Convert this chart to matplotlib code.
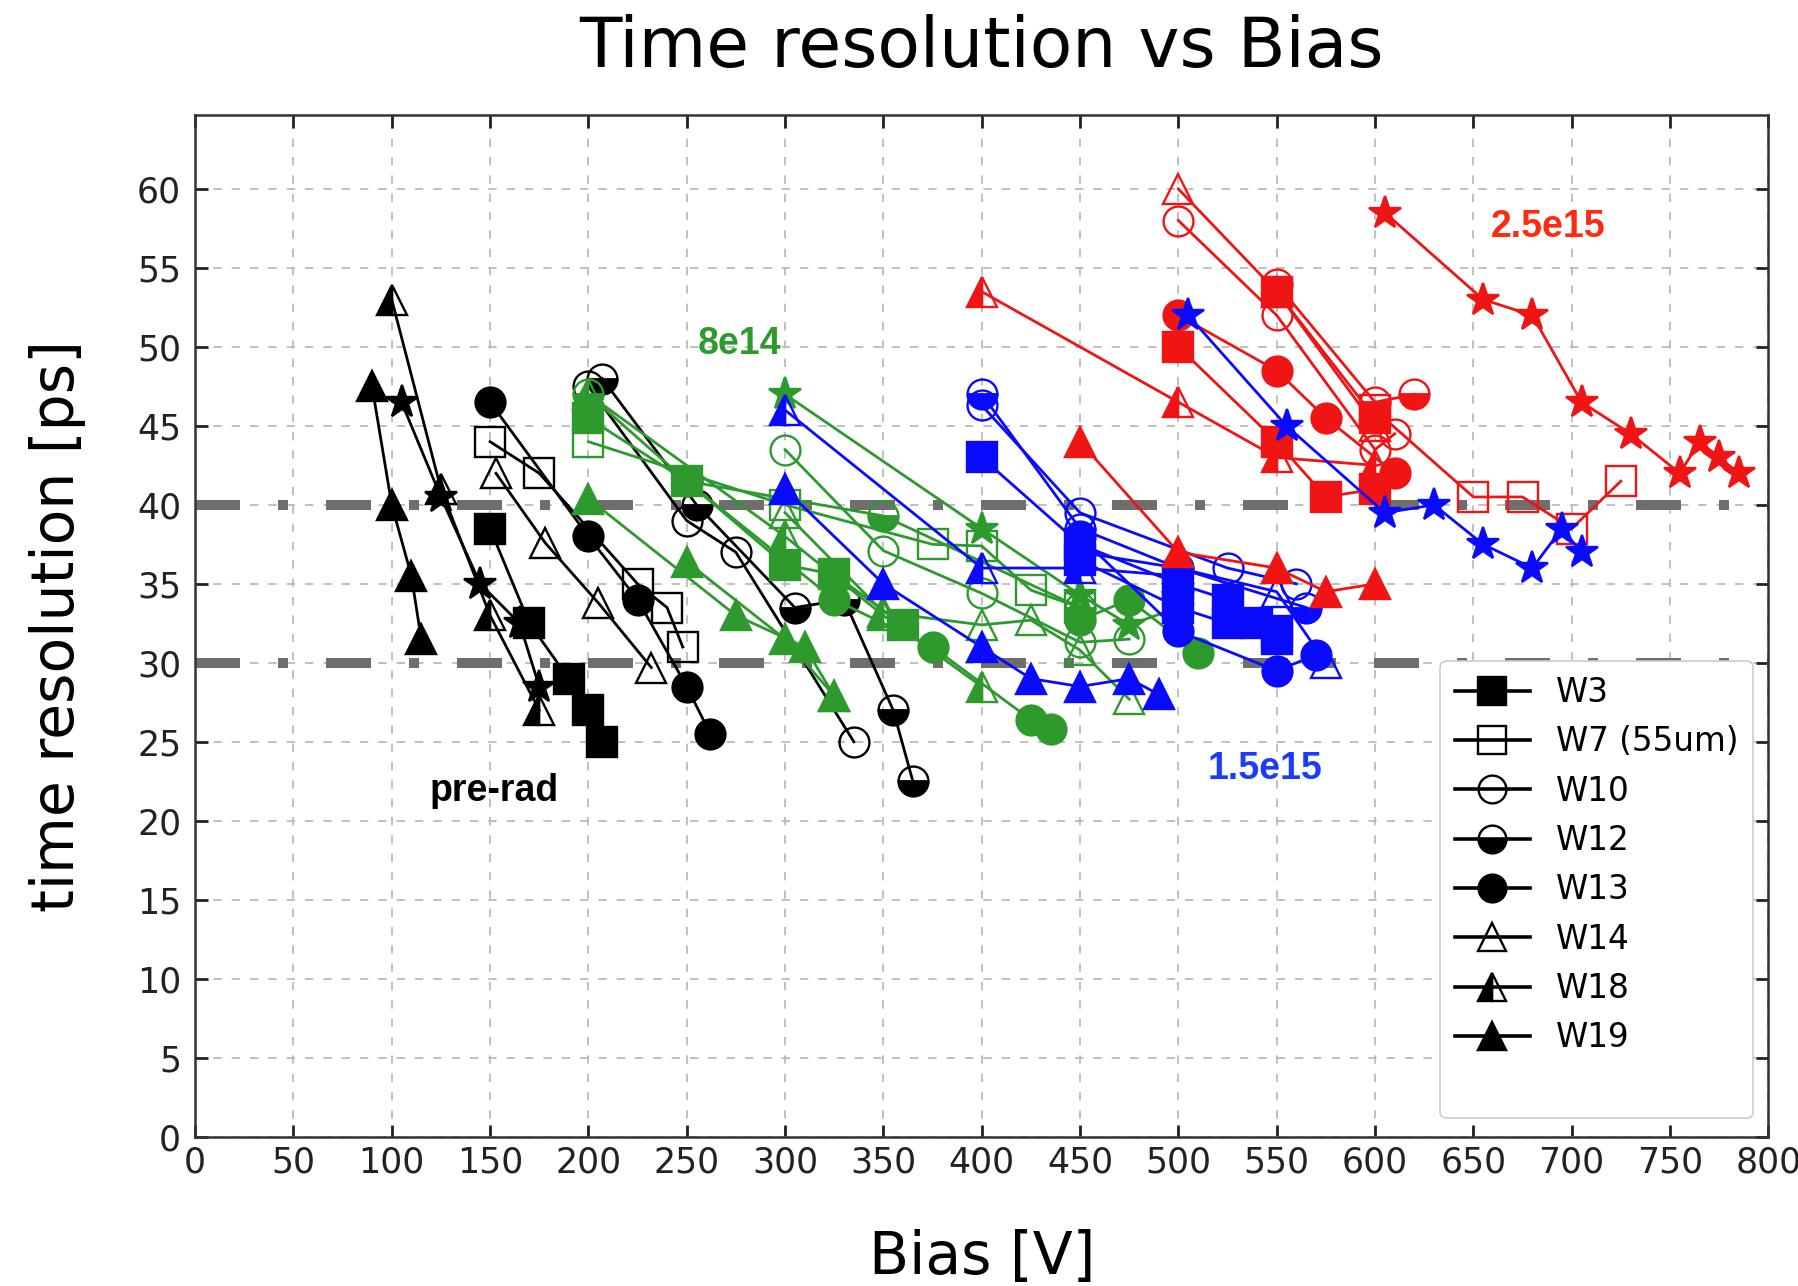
import matplotlib
matplotlib.use("Agg")
import matplotlib.pyplot as plt
from matplotlib.lines import Line2D

# ---------------- data: bias [V] vs time resolution [ps] ----------------
# pre-rad (black)
pre_w3_v, pre_w3_t = [150, 170, 190, 200, 207], [38.5, 32.5, 29, 27, 25]
pre_w7_v, pre_w7_t = [150, 175, 225, 240, 248], [44, 42, 35, 33.5, 31]
pre_w10_v, pre_w10_t = [200, 250, 275, 335], [47.5, 39, 37, 25]
pre_w12_v, pre_w12_t = [207, 255, 305, 330, 355, 365], [48, 40, 33.5, 34, 27, 22.5]
pre_w13_v, pre_w13_t = [150, 200, 225, 250, 262], [46.5, 38, 34, 28.5, 25.5]
pre_w14_v, pre_w14_t = [153, 178, 205, 232], [42, 37.6, 33.8, 29.7]
pre_w18_v, pre_w18_t = [100, 125, 150, 175], [53, 41, 33, 27]
pre_w19_v, pre_w19_t = [90, 100, 110, 115], [47.5, 40, 35.5, 31.5]
pre_star_v, pre_star_t = [105, 125, 145, 165, 175], [46.5, 40.5, 35, 32.5, 28.5]

# 8e14 (green)
f8_w3_v, f8_w3_t = [200, 250, 300, 325, 360], [45.5, 41.5, 36.2, 35.6, 32.4]
f8_w7_v, f8_w7_t = [200, 300, 375, 400, 425, 450], [44, 40, 37.5, 37.4, 34.6, 33.5]
f8_w10_v, f8_w10_t = [300, 350, 400, 450, 475], [43.5, 37.1, 34.4, 31.3, 31.5]
f8_w12_v, f8_w12_t = [200, 250, 350, 450], [47, 41.5, 39.3, 33.5]
f8_w13_v, f8_w13_t = [250, 325, 375, 425, 435], [41.5, 34, 31, 26.4, 25.8]
f8_w13b_v, f8_w13b_t = [450, 475, 510], [32.7, 34, 30.6]
f8_w14_v, f8_w14_t = [300, 350, 400, 425, 450, 475], [39.5, 33.2, 32.4, 32.7, 30.8, 27.7]
f8_w18_v, f8_w18_t = [200, 300, 350, 400], [47, 38, 33, 28.5]
f8_w19_v, f8_w19_t = [200, 275, 310, 325], [40.4, 33, 31, 27.9]
f8_w19b_v, f8_w19b_t = [250, 300, 325], [36.4, 31.5, 27.9]
f8_star_v, f8_star_t = [300, 400, 450, 475, 500], [47, 38.5, 34.3, 32.4, 33.5]

# 1.5e15 (blue)
f15_w3_v, f15_w3_t = [400, 450, 500, 525, 550], [43, 37.5, 35, 34, 32]
f15_w3b_v, f15_w3b_t = [450, 500, 525, 540, 550], [36.5, 33.5, 32.5, 32.5, 31.5]
f15_w10_v, f15_w10_t = [400, 450, 525, 560], [46.3, 39.5, 36, 35]
f15_w12_v, f15_w12_t = [400, 450, 500, 565], [47, 38.5, 36, 33.5]
f15_w13_v, f15_w13_t = [450, 500, 550, 570], [38, 32, 29.5, 30.5]
f15_w14_v, f15_w14_t = [450, 500, 550, 575], [37, 36, 34.5, 30]
f15_w18_v, f15_w18_t = [300, 400, 450, 500], [46, 36, 36, 35.5]
f15_w19_v, f15_w19_t = [300, 350, 400, 425, 450, 475, 490], [41, 35, 31, 29, 28.5, 29, 28]
f15_star_v = [505, 555, 605, 630, 655, 680, 695, 705]
f15_star_t = [52, 45, 39.5, 40, 37.5, 36, 38.5, 37]

# 2.5e15 (red)
f25_w3_v, f25_w3_t = [500, 550, 575, 600], [50, 44, 40.5, 41]
f25_w3b_v, f25_w3b_t = [550, 600], [53.5, 45.5]
f25_w7_v, f25_w7_t = [600, 650, 675, 700, 725], [46, 40.5, 40.5, 38.5, 41.5]
f25_w10_v, f25_w10_t = [500, 550, 600, 610], [58, 52, 43.5, 44.5]
f25_w12_v, f25_w12_t = [550, 600, 620], [54, 46.5, 47]
f25_w13_v, f25_w13_t = [500, 550, 575, 610], [52, 48.5, 45.5, 42]
f25_w14_v, f25_w14_t = [500, 550, 600], [60, 53.5, 45]
f25_w18_v, f25_w18_t = [400, 500, 550, 600], [53.5, 46.5, 43, 42.5]
f25_w19_v, f25_w19_t = [450, 500, 550, 575, 600], [44, 37, 36, 34.5, 35]
f25_star_v = [605, 655, 680, 705, 730, 755, 765, 775, 785]
f25_star_t = [58.5, 53, 52, 46.5, 44.5, 42, 44, 43, 42]

targets = [30, 40]
legend_wafers = ["W3", "W7", "W10", "W12", "W13", "W14", "W18", "W19"]
legend_names = ["W3", "W7 (55um)", "W10", "W12", "W13", "W14", "W18", "W19"]

BLACK, GREEN, BLUE, RED = "#000000", "#2e9a2e", "#0a0aff", "#f01414"

# marker look per wafer: (marker, fillstyle, filled)
STYLE = {
    "W3": ("s", "full", True),
    "W7": ("s", "full", False),
    "W10": ("o", "full", False),
    "W12": ("o", "bottom", True),
    "W13": ("o", "full", True),
    "W14": ("^", "full", False),
    "W18": ("^", "left", True),
    "W19": ("^", "full", True),
    "star": ("*", "full", True),
}

series = [
    (BLACK, "W3", pre_w3_v, pre_w3_t), (BLACK, "W7", pre_w7_v, pre_w7_t),
    (BLACK, "W10", pre_w10_v, pre_w10_t), (BLACK, "W12", pre_w12_v, pre_w12_t),
    (BLACK, "W13", pre_w13_v, pre_w13_t), (BLACK, "W14", pre_w14_v, pre_w14_t),
    (BLACK, "W18", pre_w18_v, pre_w18_t), (BLACK, "W19", pre_w19_v, pre_w19_t),
    (BLACK, "star", pre_star_v, pre_star_t),
    (GREEN, "W3", f8_w3_v, f8_w3_t), (GREEN, "W7", f8_w7_v, f8_w7_t),
    (GREEN, "W10", f8_w10_v, f8_w10_t), (GREEN, "W12", f8_w12_v, f8_w12_t),
    (GREEN, "W13", f8_w13_v, f8_w13_t), (GREEN, "W13", f8_w13b_v, f8_w13b_t),
    (GREEN, "W14", f8_w14_v, f8_w14_t), (GREEN, "W18", f8_w18_v, f8_w18_t),
    (GREEN, "W19", f8_w19_v, f8_w19_t), (GREEN, "W19", f8_w19b_v, f8_w19b_t),
    (GREEN, "star", f8_star_v, f8_star_t),
    (BLUE, "W3", f15_w3_v, f15_w3_t), (BLUE, "W3", f15_w3b_v, f15_w3b_t),
    (BLUE, "W10", f15_w10_v, f15_w10_t), (BLUE, "W12", f15_w12_v, f15_w12_t),
    (BLUE, "W13", f15_w13_v, f15_w13_t), (BLUE, "W14", f15_w14_v, f15_w14_t),
    (BLUE, "W18", f15_w18_v, f15_w18_t), (BLUE, "W19", f15_w19_v, f15_w19_t),
    (RED, "W3", f25_w3_v, f25_w3_t), (RED, "W3", f25_w3b_v, f25_w3b_t),
    (RED, "W7", f25_w7_v, f25_w7_t), (RED, "W10", f25_w10_v, f25_w10_t),
    (RED, "W12", f25_w12_v, f25_w12_t), (RED, "W13", f25_w13_v, f25_w13_t),
    (RED, "W14", f25_w14_v, f25_w14_t), (RED, "W18", f25_w18_v, f25_w18_t),
    (RED, "W19", f25_w19_v, f25_w19_t), (RED, "star", f25_star_v, f25_star_t),
    (BLUE, "star", f15_star_v, f15_star_t),
]


def marker_kw(color, wafer, ms=21.5):
    m, fs, filled = STYLE[wafer]
    if wafer == "star":
        ms = ms * 1.15
    return dict(marker=m, fillstyle=fs, markersize=ms, markeredgewidth=1.7,
                markeredgecolor=color,
                markerfacecolor=color if filled else "none",
                markerfacecoloralt="none")


fig = plt.figure(figsize=(17.98, 12.86), dpi=100)
ax = fig.add_axes([0.1085, 0.1161, 0.875, 0.7947])

for ypos in targets:
    ax.axhline(ypos, color="#6e6e6e", lw=7.2, dashes=(4.5, 3.8, 1.0, 3.8), zorder=1)

for color, wafer, v, t in series:
    ax.plot(v, t, color=color, lw=2.0, zorder=3, **marker_kw(color, wafer))

handles = [Line2D([], [], color="black", lw=2.6, **marker_kw("black", w, ms=20))
           for w in legend_wafers]
handles.append(Line2D([], [], color="none"))
leg = ax.legend(handles, legend_names + [" "], loc="upper left",
                bbox_to_anchor=(0.781, 0.481), fontsize=23.5, labelspacing=0.5,
                handlelength=2.3, handletextpad=0.8, borderpad=0.45,
                frameon=True, fancybox=True, framealpha=1, edgecolor="#cccccc")
leg.get_frame().set_linewidth(1.2)
leg.set_zorder(5)

bold = dict(fontsize=27, fontweight="bold", family="Liberation Sans",
            ha="center", va="center", zorder=6)
ax.text(152, 21.9, "pre-rad", color="black", **bold)
ax.text(277, 50.2, "8e14", color=GREEN, **bold)
ax.text(544, 23.3, "1.5e15", color="#1a3cff", **bold)
ax.text(688, 57.6, "2.5e15", color="#ff2a10", **bold)

ax.set_xlim(0, 800)
ax.set_ylim(0, 64.7)
ax.set_xticks(range(0, 801, 50))
ax.set_yticks(range(0, 61, 5))
ax.grid(True, color="#b5b5b5", lw=1.2, linestyle=(0, (5, 6)), zorder=0)
ax.set_axisbelow(True)
ax.tick_params(direction="in", length=9, width=2, labelsize=25, colors="#222222",
               top=True, right=True)
ax.tick_params(axis="y", pad=10)
ax.tick_params(axis="x", pad=6)
for sp in ax.spines.values():
    sp.set_linewidth(1.8)
    sp.set_color("#333333")

ax.set_title("Time resolution vs Bias", fontsize=50, pad=34)
ax.set_xlabel("Bias [V]", fontsize=42, labelpad=36)
ax.set_ylabel("time resolution [ps]", fontsize=42, labelpad=37)

fig.savefig("out.png", dpi=100)
